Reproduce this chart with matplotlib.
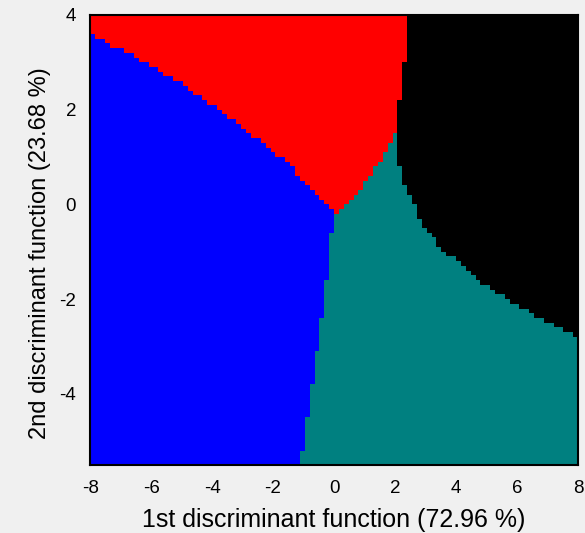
import numpy as np
import matplotlib
matplotlib.use("Agg")
import matplotlib.pyplot as plt
from matplotlib.colors import ListedColormap

# region boundaries, each one as x = f(y)
# blue | rest  (blue/teal edge below, blue/red edge above)
yl = [-5.5, -5.42, -4.70, -4.0, -3.2, -2.5, -2.0, -0.8, -0.21, 0.32, 1.02, 1.82, 2.01, 2.22, 2.52, 2.81, 3.13, 3.41, 3.64, 3.65, 4.0]
xl = [-1.09, -1.09, -0.92, -0.76, -0.59, -0.43, -0.30, -0.13, 0.03, -0.69, -1.78, -3.42, -3.8, -4.3, -4.96, -5.72, -6.55, -7.5, -8.0, -9.0, -9.0]

# red | teal
ym = [-5.5, -0.22, -0.21, -0.02, 0.18, 0.47, 0.76, 1.06, 1.27, 1.55, 1.56, 4.0]
xm = [-9.0, -9.0, 0.03, 0.38, 0.72, 1.04, 1.37, 1.68, 1.84, 2.0, 9.0, 9.0]

# teal/red | black
yr = [-5.5, -2.87, -2.82, -2.72, -2.54, -2.33, -2.14, -1.94, -1.73, -1.53, -1.33, -1.13, -0.92, -0.73,
      -0.53, -0.32, -0.13, 0.08, 0.28, 0.67, 1.09, 1.8, 2.4, 3.3, 4.0]
xr = [9.0, 9.0, 8.04, 7.76, 7.16, 6.55, 6.01, 5.56, 5.08, 4.58, 4.25, 3.92, 3.49, 3.32,
      2.99, 2.85, 2.69, 2.56, 2.37, 2.23, 2.06, 2.04, 2.2, 2.37, 2.4]

class_colors = ["#0000ff", "#ff0000", "#008080", "#000000"]  # blue, red, teal, black

plt.rcParams["font.family"] = ["Liberation Sans", "DejaVu Sans"]
plt.rcParams["axes.unicode_minus"] = False

xedges = np.linspace(-8, 8, 101)
yedges = np.linspace(-5.5, 4.0, 96)
xc = (xedges[:-1] + xedges[1:]) / 2
yc = (yedges[:-1] + yedges[1:]) / 2
X, Y = np.meshgrid(xc, yc)

xl_at = np.interp(Y, yl, xl)
xm_at = np.interp(Y, ym, xm)
xr_at = np.interp(Y, yr, xr)
lab = np.where(X < xl_at, 0, np.where(X > xr_at, 3, np.where(X < xm_at, 1, 2)))

fig = plt.figure(figsize=(5.85, 5.33), dpi=100, facecolor="#f0f0f0")
ax = fig.add_axes([0.154, 0.128, 0.834, 0.844])
ax.pcolormesh(xedges, yedges, lab, cmap=ListedColormap(class_colors), vmin=-0.5, vmax=3.5)

ax.set_xlim(-8, 8)
ax.set_ylim(-5.5, 4)
ax.set_xticks([-8, -6, -4, -2, 0, 2, 4, 6, 8])
ax.set_yticks([-4, -2, 0, 2, 4])
ax.tick_params(length=0, labelsize=13.5)
ax.tick_params(axis="x", pad=11)
ax.tick_params(axis="y", pad=10)
for s in ax.spines.values():
    s.set_linewidth(1.5)

ax.set_xlabel("1st discriminant function (72.96 %)", fontsize=18, labelpad=8)
ax.set_ylabel("2nd discriminant function (23.68 %)", fontsize=17)
ax.yaxis.set_label_coords(-0.08, 0.47)

fig.savefig("out.png", dpi=100, facecolor=fig.get_facecolor())
